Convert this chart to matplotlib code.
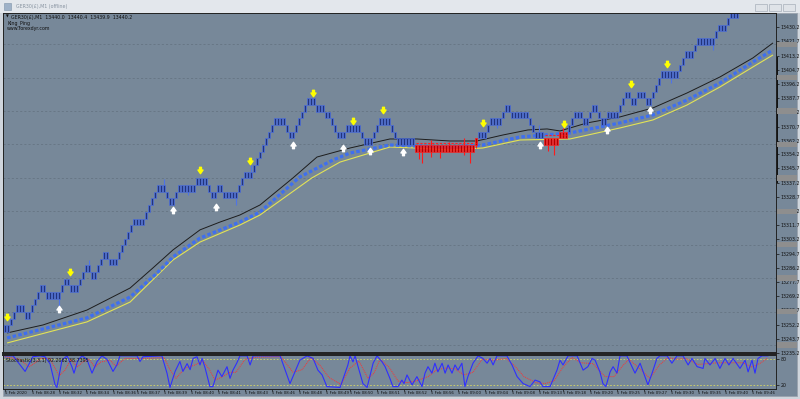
import numpy as np
import matplotlib.pyplot as plt
from matplotlib.path import Path
from matplotlib.patches import Rectangle

# ---- data ----
# renko bricks: level (in boxes) and how many bars stay at that level
run_level = [-21, -20, -19, -18, -19, -18, -17, -16, -15, -16,
             -15, -14, -15, -14, -13, -12, -13, -12, -11, -10,
             -11, -10, -9, -8, -7, -6, -5, -4, -3, -2,
             -1, 0, -1, -2, -1, 0, 1, 0, -1, 0,
             -1, 0, 1, 2, 3, 4, 5, 6, 7, 8,
             9, 10, 9, 8, 9, 10, 11, 12, 13, 12,
             11, 10, 9, 8, 9, 8, 7, 8, 9, 10,
             9, 8, 7, 6, 7, 8, 9, 10, 11, 12,
             11, 10, 9, 8, 7, 8, 9, 10, 11, 10,
             11, 12, 11, 10, 11, 12, 13, 14, 13, 14,
             13, 14, 15, 16, 17, 18, 19, 20, 21, 22,
             23, 24, 25, 26, 27, 28, 29, 30, 31]
run_len = [2, 1, 1, 3, 2, 1, 1, 1, 2, 5,
           1, 2, 3, 1, 1, 2, 2, 1, 1, 2,
           3, 1, 1, 1, 1, 1, 4, 1, 1, 1,
           1, 3, 1, 2, 1, 6, 4, 1, 2, 2,
           5, 1, 1, 3, 1, 1, 1, 1, 1, 1,
           1, 4, 1, 2, 1, 1, 1, 1, 3, 3,
           2, 1, 1, 3, 5, 1, 3, 1, 1, 4,
           1, 1, 6, 20, 1, 3, 1, 4, 1, 2,
           6, 1, 1, 3, 5, 3, 1, 1, 3, 2,
           1, 2, 1, 2, 4, 1, 1, 2, 2, 3,
           2, 1, 1, 1, 6, 1, 1, 3, 1, 6,
           1, 3, 1, 3, 2, 2, 2, 2, 2]
brick_base = 13333.7   # centre price of level 0
brick_size = 4.0

# bearish (red) stretches, bar index from/to
red_from = [137, 180]
red_to = [157, 187]
red_line_price = [13360.9, 13365.7]

# wicks: (bar, low, high)
blue_wicks = [(18, 13262.7, 13270.0), (28, 13284.0, 13290.8), (53, 13333.0, 13339.3),
              (61, 13329.8, 13334.0), (77, 13323.8, 13330.0), (82, 13341.0, 13347.9),
              (164, 13369.9, 13374.0), (178, 13364.0, 13371.7), (222, 13396.8, 13402.0),
              (236, 13416.6, 13422.0)]
red_wicks = [(138, 13351.3, 13358.0), (139, 13348.9, 13358.0), (142, 13352.5, 13362.7),
             (145, 13352.0, 13358.0), (148, 13356.0, 13361.5), (153, 13353.7, 13363.9),
             (155, 13348.9, 13358.0), (157, 13358.0, 13364.0), (181, 13356.0, 13362.0),
             (183, 13353.7, 13362.0), (186, 13366.0, 13369.9)]

# signal arrows: (bar, price)
sell_arrows = [(0.7, 13256.7), (21.7, 13283.7), (65, 13344.7), (81.7, 13350.1),
               (102.7, 13390.8), (116, 13374.1), (126, 13380.7), (159.3, 13372.9),
               (186.3, 13372.3), (208.7, 13396.2), (220.7, 13408.2)]
buy_arrows = [(18, 13261.5), (56, 13320.8), (70.3, 13322.6), (96, 13359.7),
              (112.7, 13357.9), (121.7, 13356.1), (132.7, 13355.5), (178.3, 13359.7),
              (200.7, 13368.7), (215, 13380.7)]

# moving averages: (bar, price)
ma_black = [(0.7, 13247.2), (12.7, 13252.0), (27.3, 13260.9), (41.7, 13274.1),
            (49.3, 13286.1), (56, 13296.9), (65, 13308.9), (71.7, 13313.6),
            (78.3, 13317.8), (85, 13323.8), (96, 13340.0), (104, 13352.5),
            (115, 13357.9), (128.3, 13363.3), (137.3, 13363.3), (148.3, 13362.1),
            (157.3, 13362.1), (166, 13365.7), (174.3, 13368.7), (180.7, 13369.3),
            (185, 13368.1), (194, 13372.9), (205, 13376.5), (216, 13381.9),
            (227.3, 13390.8), (238.3, 13400.4), (249.3, 13411.8), (256, 13420.8)]
ma_blue = [(0.7, 13244.2), (27.3, 13256.2), (41.7, 13268.7), (50.7, 13283.1),
           (56, 13292.7), (65, 13304.0), (78.3, 13313.6), (85, 13319.6),
           (98.3, 13340.6), (109.3, 13350.7), (115, 13354.9), (128.3, 13359.7),
           (137.3, 13359.1), (148.3, 13358.5), (159.3, 13359.7), (171.7, 13364.5),
           (188.3, 13366.9), (205, 13372.9), (216, 13377.7), (227.3, 13386.6),
           (238.3, 13396.8), (249.3, 13409.4), (256, 13416.6)]
ma_yellow = [(0.7, 13241.2), (27.3, 13253.8), (41.7, 13265.7), (56, 13290.9),
             (65, 13301.6), (78.3, 13311.8), (85, 13317.8), (102.3, 13340.0),
             (111.7, 13349.5), (128.3, 13358.5), (137.3, 13357.9), (148.3, 13356.7),
             (159.3, 13357.9), (171.7, 13362.7), (188.3, 13363.3), (205, 13369.9),
             (216, 13374.7), (227.3, 13383.6), (238.3, 13394.4), (249.3, 13406.4),
             (256, 13413.6)]

# stochastic %K and %D: (bar, value)
stoch_k = [(0, 88), (2.7, 88), (6.7, 52), (9.3, 86), (11.7, 88), (13.3, 86), (15, 70),
           (16.7, 21), (17.3, 15), (19, 78), (20.7, 88), (22.3, 63), (23, 48), (24.3, 78),
           (25.7, 88), (27.3, 80), (29, 48), (30.7, 75), (32.3, 88), (34, 80), (36, 52),
           (37.3, 67), (38.3, 88), (44, 88), (45, 75), (46, 86), (52.3, 88), (54, 48),
           (55, 15), (56.7, 52), (58.3, 75), (59.3, 52), (60.7, 70), (61.7, 56), (62.7, 82),
           (64, 86), (65, 67), (65.7, 82), (66.7, 60), (68.3, 17), (69.3, 17), (71, 55),
           (72.3, 40), (74, 63), (75, 36), (76, 55), (77.3, 72), (78.3, 88), (80.7, 88),
           (81.7, 67), (82.7, 88), (85, 88), (91.7, 88), (95, 24), (98.3, 78), (100.7, 88),
           (102.7, 82), (104.3, 55), (105.7, 44), (107.3, 17), (111.7, 15), (114.3, 67),
           (115, 88), (116, 74), (116.7, 88), (117.7, 63), (119.3, 24), (120.7, 15),
           (122.7, 71), (124, 88), (125.7, 74), (126.7, 63), (128.3, 36), (129.3, 17),
           (131, 17), (132.3, 32), (133, 24), (134, 44), (135.7, 21), (137.3, 40), (139, 17),
           (140, 48), (141, 63), (142.3, 48), (143.3, 71), (144.3, 51), (145.7, 71),
           (146.7, 48), (147.7, 67), (149, 48), (150, 67), (151, 55), (152.3, 71),
           (153.3, 17), (154.3, 40), (156, 71), (157.7, 88), (159.3, 82), (160.7, 71),
           (161.7, 82), (162.7, 67), (164, 88), (167.3, 88), (169, 67), (170.7, 40),
           (172.7, 24), (175, 17), (176.7, 32), (178.3, 28), (179.3, 17), (181.7, 17),
           (184, 55), (185, 78), (186, 67), (187.7, 88), (190.7, 88), (192.7, 55),
           (194.3, 63), (195.7, 82), (196.7, 78), (198.3, 51), (199.3, 24), (200.3, 17),
           (201.7, 51), (202.7, 63), (204, 48), (205, 88), (207.3, 88), (210, 48),
           (211.7, 71), (213.3, 40), (214.3, 21), (215.7, 48), (217.3, 82), (218.3, 88),
           (220.7, 88), (222.3, 71), (224, 88), (226, 88), (227.7, 67), (229, 82),
           (230.7, 63), (232.7, 59), (233.3, 82), (235, 67), (236.7, 82), (238.3, 59),
           (240, 82), (241.3, 67), (242.7, 82), (245, 59), (246.7, 78), (247.7, 51),
           (249, 78), (250, 48), (251, 82), (252.3, 88), (254.3, 88)]
stoch_d = [(0, 86), (5, 80), (8, 62), (12, 82), (15, 82), (18, 42), (20, 55), (22, 80),
           (24, 62), (26, 74), (28, 80), (30, 62), (32, 74), (35, 78), (37, 64), (40, 82),
           (45, 82), (47, 82), (53, 84), (55, 56), (57, 36), (60, 60), (63, 66), (66, 76),
           (68, 58), (70, 32), (72, 38), (75, 50), (77, 50), (80, 80), (84, 85), (92, 86),
           (96, 50), (99, 56), (102, 84), (105, 66), (108, 38), (112, 22), (115, 60),
           (118, 76), (121, 36), (123, 48), (125, 80), (128, 62), (131, 30), (134, 26),
           (137, 30), (141, 40), (144, 56), (147, 60), (150, 58), (153, 44), (156, 50),
           (159, 80), (163, 78), (167, 82), (170, 64), (173, 40), (177, 26), (180, 24),
           (183, 30), (186, 62), (189, 84), (192, 72), (196, 70), (200, 40), (203, 40),
           (206, 66), (208, 80), (211, 62), (215, 36), (218, 66), (221, 84), (224, 80),
           (227, 82), (231, 68), (234, 70), (238, 72), (242, 72), (246, 72), (249, 62),
           (252, 72), (254, 82)]
stoch_levels = [80, 20]

# axes labels
price_ticks = [13235.2, 13243.7, 13252.2, 13260.7, 13269.2, 13277.7, 13286.2, 13294.7,
               13303.2, 13311.7, 13320.2, 13328.7, 13337.2, 13345.7, 13354.2, 13362.2,
               13370.7, 13379.2, 13387.7, 13396.2, 13404.7, 13413.2, 13421.7, 13430.2]
grid_prices = [13240, 13260, 13280, 13300, 13320, 13340, 13360, 13380, 13400, 13420]
time_tick_bar = [0, 9, 18, 27, 36, 44, 53, 62, 71, 80, 89, 98, 107, 115, 124,
                 133, 142, 151, 160, 169, 178, 186, 195, 204, 213, 222, 231, 240, 249]
time_labels = ["5 Feb 2020", "5 Feb 08:28", "5 Feb 08:32", "5 Feb 08:34", "5 Feb 08:36",
               "5 Feb 08:37", "5 Feb 08:39", "5 Feb 08:40", "5 Feb 08:41", "5 Feb 08:43",
               "5 Feb 08:46", "5 Feb 08:48", "5 Feb 08:49", "5 Feb 08:50", "5 Feb 08:51",
               "5 Feb 08:52", "5 Feb 08:56", "5 Feb 09:00", "5 Feb 09:04", "5 Feb 09:08",
               "5 Feb 09:13", "5 Feb 09:18", "5 Feb 09:20", "5 Feb 09:25", "5 Feb 09:27",
               "5 Feb 09:30", "5 Feb 09:35", "5 Feb 09:40", "5 Feb 09:46"]
scale_bar = (13337.0, 13412.4)

window_title = "GER30(£),M1 (offline)"
header_lines = ["GER30(£),M1  13440.0  13440.4  13439.9  13440.2", "King_Ping", "www.forexdyr.com"]
stoch_title = "Stochastic(3,3,1) 92.2062 38.7395"

BG = "#778899"
FS = 3.4


def fx(px):
    return px / 800.0


def fy(py):
    return 1 - py / 399.0


fig = plt.figure(figsize=(8, 3.99), dpi=100)
fig.patch.set_facecolor("#cfd5dc")

# window chrome (kept behind the axes)
fig.patches.extend([
    Rectangle((0, fy(12.5)), 1, 12.5 / 399, transform=fig.transFigure,
              facecolor="#e3e7ec", edgecolor="none", zorder=-5),
    Rectangle((fx(3), fy(396)), 794 / 800, 383.5 / 399, transform=fig.transFigure,
              facecolor=BG, edgecolor="#9aa3ad", linewidth=0.6, zorder=-5),
    Rectangle((fx(4), fy(10)), 7 / 800, 7 / 399, transform=fig.transFigure,
              facecolor="#9fb2c8", edgecolor="#7f93aa", linewidth=0.4, zorder=-5),
])
for bx in [755, 769, 783]:
    fig.patches.append(Rectangle((fx(bx), fy(10.5)), 12 / 800, 7 / 399, transform=fig.transFigure,
                                 facecolor="#dfe3e8", edgecolor="#a7b0ba", linewidth=0.5,
                                 zorder=-4))
fig.text(fx(16), fy(6.3), window_title, fontsize=FS, color="#8793a0", va="center")

# ---- main price panel ----
ax = fig.add_axes([fx(3), fy(353), 773 / 800, 340 / 399])
ax.set_facecolor(BG)
ax.set_xlim(-0.667, 257)
ax.set_ylim(13235.2, 13438.7)

for p in grid_prices:
    ax.axhline(p, color="#62717f", lw=0.5, ls=(0, (3, 3)), zorder=0.5)

levels = np.repeat(run_level, run_len)
bars = np.arange(len(levels))
centre = brick_base + brick_size * levels
is_red = np.zeros(len(levels), dtype=bool)
for a, b in zip(red_from, red_to):
    is_red[a:b + 1] = True

# moving averages
for pts, kw in [(ma_yellow, dict(color="#e3e356", lw=0.8)),
                (ma_blue, dict(color="#3e6ff0", lw=2.3, ls=(0, (1.1, 0.7)))),
                (ma_black, dict(color="#1d1d1d", lw=0.7))]:
    xs, ys = zip(*pts)
    ax.plot(xs, ys, zorder=1.5, solid_capstyle="butt", **kw)

# wicks
wb, wl, wh = zip(*blue_wicks)
ax.vlines(wb, wl, wh, color="#4f74e6", lw=0.8, zorder=1.8)
wb, wl, wh = zip(*red_wicks)
ax.vlines(wb, wl, wh, color="#ff1a1a", lw=0.8, zorder=1.8)

ax.bar(bars[~is_red], brick_size, bottom=centre[~is_red] - brick_size / 2, width=0.85,
       color="#22347c", edgecolor="#4d70e0", linewidth=0.5, zorder=2)
ax.bar(bars[is_red], brick_size, bottom=centre[is_red] - brick_size / 2, width=0.85,
       color="#b30000", edgecolor="#ff2222", linewidth=0.5, zorder=2)

ax.hlines(red_line_price, red_from, red_to, colors="#ff2020", lw=0.8,
          linestyles=(0, (2, 1.5)), zorder=2.5)

# arrows
down = Path([(-0.3, 1), (0.3, 1), (0.3, 0.15), (0.8, 0.15), (0, -1), (-0.8, 0.15),
             (-0.3, 0.15), (-0.3, 1)],
            [Path.MOVETO] + [Path.LINETO] * 6 + [Path.CLOSEPOLY])
up = Path([(x, -y) for x, y in down.vertices], down.codes)
xs, ys = zip(*sell_arrows)
ax.plot(xs, ys, ls="none", marker=down, ms=4.6, color="#ffff00", mec="#ffff00", zorder=3)
xs, ys = zip(*buy_arrows)
ax.plot(xs, ys, ls="none", marker=up, ms=4.6, color="#ffffff", mec="#ffffff", zorder=3)

# price scale
ax.yaxis.tick_right()
ax.set_yticks(price_ticks)
ax.set_yticklabels([f"{p:.1f}" for p in price_ticks])
ax.tick_params(axis="y", labelsize=FS, length=2, width=0.5, pad=1.5, colors="#111111")
ax.set_xticks([])
ytr = ax.get_yaxis_transform()
for p in grid_prices:
    ax.add_patch(Rectangle((1.0015, p - 1.6), 0.026, 3.2, transform=ytr, clip_on=False,
                           facecolor="#8e8e8e", edgecolor="none", zorder=5))
ax.plot([1.0015, 1.0015], scale_bar, transform=ytr, color="#111111", lw=1.4,
        clip_on=False, solid_capstyle="butt")
for s in ax.spines.values():
    s.set_color("#222222")
    s.set_linewidth(0.7)
ax.spines["bottom"].set_linewidth(1.4)

fig.text(fx(6), fy(17), "\u25bc", fontsize=2.6, color="#111111", va="center")
fig.text(fx(11), fy(17), header_lines[0], fontsize=FS, color="#111111", va="center")
fig.text(fx(7), fy(23), header_lines[1], fontsize=FS, color="#111111", va="center")
fig.text(fx(7), fy(28.5), header_lines[2], fontsize=FS, color="#111111", va="center")

# ---- stochastic panel ----
sx = fig.add_axes([fx(3), fy(388.5), 773 / 800, 34 / 399])
sx.set_facecolor(BG)
sx.set_xlim(-0.667, 257)
sx.set_ylim(12.6, 91.1)
for lv in stoch_levels:
    sx.axhline(lv, color="#d8d860", lw=0.6, ls=(0, (2, 2)))
xs, ys = zip(*stoch_d)
sx.plot(xs, ys, color="#ff3030", lw=0.7, ls=(0, (1, 1)))
xs, ys = zip(*stoch_k)
sx.plot(xs, ys, color="#2f2fff", lw=0.8)
sx.text(0.004, 0.9, stoch_title, transform=sx.transAxes, fontsize=FS, color="#111111",
        va="top")
sx.yaxis.tick_right()
sx.set_yticks(stoch_levels)
sx.set_yticklabels([str(v) for v in stoch_levels])
sx.tick_params(axis="y", labelsize=FS, length=2, width=0.5, pad=1.5, colors="#111111")
sx.set_xticks(time_tick_bar)
sx.set_xticklabels(time_labels)
sx.tick_params(axis="x", labelsize=2.8, length=1.2, width=0.5, pad=0.3, colors="#111111")
for lbl in sx.get_xticklabels():
    lbl.set_ha("left")
for s in sx.spines.values():
    s.set_color("#222222")
    s.set_linewidth(0.7)
sx.spines["top"].set_linewidth(1.4)

fig.savefig("out.png", dpi=100, facecolor=fig.get_facecolor())
